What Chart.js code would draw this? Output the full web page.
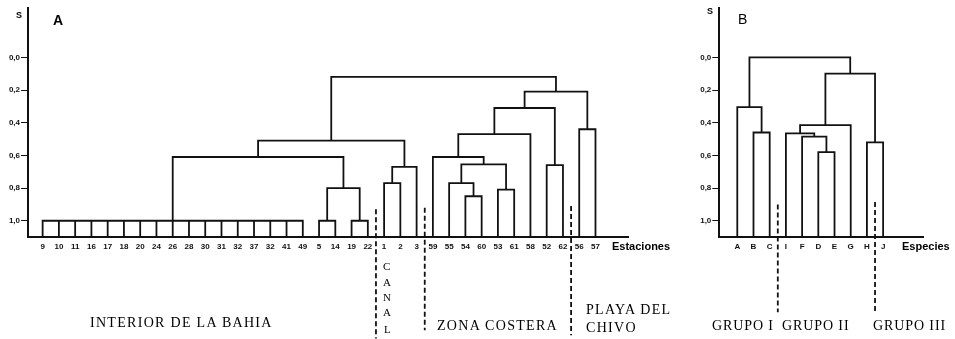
<!DOCTYPE html>
<html><head><meta charset="utf-8">
<script src="https://cdn.jsdelivr.net/npm/chart.js@4.4.1/dist/chart.umd.min.js"></script>
<style>
html,body{margin:0;padding:0;background:#fff;}
#wrap{position:relative;width:955px;height:339px;overflow:hidden;background:#fff;}
canvas{position:absolute;top:0;}
.t{position:absolute;color:#000;white-space:nowrap;line-height:1;}
.serif{font-family:"Liberation Serif","DejaVu Serif",serif;font-size:14px;letter-spacing:1.3px;}
.grp{letter-spacing:0.9px;}
.sans{font-family:"Liberation Sans",Arial,sans-serif;font-weight:bold;}
</style></head><body>
<div id="wrap">
<canvas id="ca" width="690" height="339" style="left:0;width:690px;height:339px"></canvas>
<canvas id="cb" width="265" height="339" style="left:690px;width:265px;height:339px"></canvas>
<div class="t sans" style="left:16px;top:11px;font-size:9px">S</div>
<div class="t sans" style="left:53px;top:13px;font-size:14px">A</div>
<div class="t sans" style="left:707px;top:7px;font-size:9px">S</div>
<div class="t sans" style="left:738px;top:12px;font-size:14px;font-weight:normal">B</div>
<div class="t sans" style="left:612px;top:241px;font-size:11px">Estaciones</div>
<div class="t sans" style="left:902px;top:241px;font-size:11px">Especies</div>
<div class="t serif" style="left:90px;top:316px">INTERIOR DE LA BAHIA</div>
<div class="t serif" style="left:383px;top:261px;font-size:11px;letter-spacing:0">C</div>
<div class="t serif" style="left:383px;top:277px;font-size:11px;letter-spacing:0">A</div>
<div class="t serif" style="left:383px;top:292px;font-size:11px;letter-spacing:0">N</div>
<div class="t serif" style="left:383px;top:307px;font-size:11px;letter-spacing:0">A</div>
<div class="t serif" style="left:384px;top:324px;font-size:11px;letter-spacing:0">L</div>
<div class="t serif" style="left:437px;top:319px">ZONA COSTERA</div>
<div class="t serif" style="left:586px;top:303px">PLAYA DEL</div>
<div class="t serif" style="left:586px;top:321px">CHIVO</div>
<div class="t serif grp" style="left:712px;top:319px">GRUPO I</div>
<div class="t serif grp" style="left:782px;top:319px">GRUPO II</div>
<div class="t serif grp" style="left:873px;top:319px">GRUPO III</div>
</div>
<script>
// ---- Data ----
const yTicks = [0, 0.2, 0.4, 0.6, 0.8, 1.0];

const leavesA = ['9','10','11','16','17','18','20','24','26','28','30','31','32','37','32','41','49',
  '5','14','19','22','1','2','3','59','55','54','60','53','61','58','52','62','56','57'];
// children: numbers = leaf index, 'M#' = earlier merge
const mergeChildrenA = [
  [0,1,2,3,4,5,6,7,8,9,10,11,12,13,14,15,16],
  [17,18], [19,20], ['M1','M2'], ['M0','M3'],
  [21,22], ['M5',23], ['M4','M6'],
  [26,27], [25,'M8'], [28,29], ['M9','M10'], [24,'M11'], ['M12',30],
  [31,32], ['M13','M14'], [33,34], ['M15','M16'], ['M7','M17']
];
const mergeHeightsA = [1.0, 1.0, 1.0, 0.80, 0.61, 0.77, 0.67, 0.51,
  0.85, 0.77, 0.81, 0.655, 0.61, 0.47, 0.66, 0.31, 0.44, 0.21, 0.12];
// dashed dividers: position between leaves, top value, bottom value
const dividerPosA = [20.5, 23.5, 32.5];
const dividerTopA = [0.93, 0.92, 0.91];
const dividerBottomA = [1.72, 1.67, 1.70];

const leavesB = ['A','B','C','I','F','D','E','G','H','J'];
const mergeChildrenB = [
  [1,2], [0,'M0'], [5,6], [4,'M2'], [3,'M3'], ['M4',7], [8,9], ['M5','M6'], ['M1','M7']
];
const mergeHeightsB = [0.46, 0.305, 0.58, 0.485, 0.465, 0.415, 0.52, 0.10, 0.0];
const dividerPosB = [2.5, 8.5];
const dividerTopB = [0.90, 0.885];
const dividerBottomB = [1.56, 1.56];

const Y_MIN = -0.30, Y_MAX = 1.10;

function buildTree(children, heights, base) {
  const pos = [];
  const pts = [];
  const get = c => typeof c === 'number' ? {x: c, y: base}
    : {x: pos[+c.slice(1)], y: heights[+c.slice(1)]};
  children.forEach((ch, i) => {
    const h = heights[i];
    const cs = ch.map(get);
    const first = cs[0], last = cs[cs.length - 1];
    pts.push({x: first.x, y: first.y}, {x: first.x, y: h}, {x: last.x, y: h},
             {x: last.x, y: last.y}, {x: last.x, y: null});
    cs.slice(1, -1).forEach(c => pts.push({x: c.x, y: c.y}, {x: c.x, y: h}, {x: c.x, y: null}));
    pos[i] = (first.x + last.x) / 2;
  });
  return pts;
}
function buildDividers(p, t, b) {
  const pts = [];
  p.forEach((x, i) => pts.push({x, y: t[i]}, {x, y: b[i]}, {x, y: null}));
  return pts;
}

function makeChart(id, leaves, treePts, divPts, xmin, xmax, yW, padR) {
  const font = {family: '"Liberation Sans", Arial, sans-serif', size: 8, weight: 'bold'};
  return new Chart(document.getElementById(id), {
    type: 'line',
    data: {datasets: [
      {data: treePts, borderColor: '#111', borderWidth: 1.8, pointRadius: 0, tension: 0,
       fill: false, spanGaps: false},
      {data: divPts, borderColor: '#111', borderWidth: 1.8, borderDash: [5, 3], pointRadius: 0,
       tension: 0, fill: false, spanGaps: false, clip: false}
    ]},
    options: {
      responsive: false, animation: false, events: [],
      layout: {padding: {top: 8.3, right: padR, left: 0, bottom: 0}},
      plugins: {legend: {display: false}, tooltip: {enabled: false}},
      scales: {
        x: {type: 'linear', min: xmin, max: xmax,
          afterBuildTicks: s => { s.ticks = leaves.map((_, i) => ({value: i})); },
          afterFit: s => { s.height = 101.9; },
          ticks: {autoSkip: false, maxRotation: 0, minRotation: 0, padding: 5, font, color: '#111',
                  callback: (v, i) => leaves[i]},
          grid: {display: false, drawTicks: false},
          border: {display: true, color: '#111', width: 2}},
        y: {type: 'linear', reverse: true, min: Y_MIN, max: Y_MAX,
          afterBuildTicks: s => { s.ticks = yTicks.map(v => ({value: v})); },
          afterFit: s => { s.width = yW; },
          ticks: {font, color: '#111', padding: 1,
                  callback: v => Number(v).toFixed(1).replace('.', ',')},
          grid: {drawOnChartArea: false, drawTicks: true, tickLength: 7, color: '#111', lineWidth: 1},
          border: {display: true, color: '#111', width: 2}}
      }
    }
  });
}

makeChart('ca', leavesA,
  buildTree(mergeChildrenA, mergeHeightsA, Y_MAX),
  buildDividers(dividerPosA, dividerTopA, dividerBottomA),
  -0.90, 36.0, 28, 62);
makeChart('cb', leavesB,
  buildTree(mergeChildrenB, mergeHeightsB, Y_MAX),
  buildDividers(dividerPosB, dividerTopB, dividerBottomB),
  -1.11, 11.46, 29.3, 32);
</script>
</body></html>
